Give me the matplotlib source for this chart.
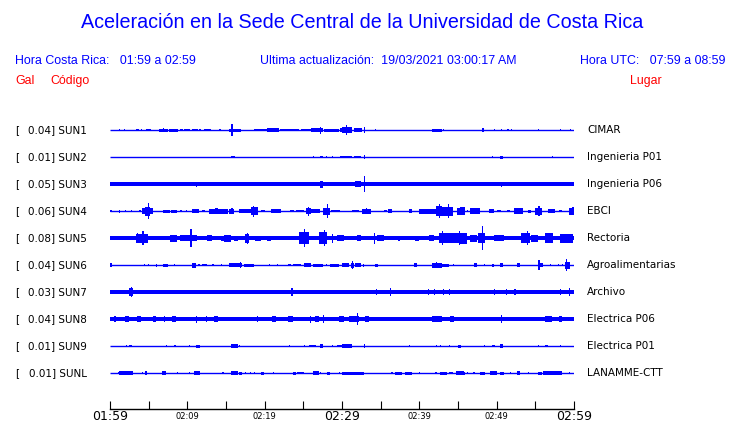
import matplotlib
matplotlib.use("Agg")
import matplotlib.pyplot as plt

# ---------------- data ----------------
codes = ["SUN1", "SUN2", "SUN3", "SUN4", "SUN5", "SUN6", "SUN7", "SUN8", "SUN9", "SUNL"]
gal = [0.04, 0.01, 0.05, 0.06, 0.08, 0.04, 0.03, 0.04, 0.01, 0.01]
places = ["CIMAR", "Ingenieria P01", "Ingenieria P06", "EBCI", "Rectoria",
          "Agroalimentarias", "Archivo", "Electrica P06", "Electrica P01", "LANAMME-CTT"]
# background (noise) half-amplitude of each trace, relative units
base_amp = [0.5, 0.5, 1.7, 0.5, 2.1, 0.5, 2.3, 2.4, 0.5, 0.5]

# events: (start minute, end minute, half amplitude)
ev_SUN1 = [(1.2,1.2,1.3),(1.8,1.8,1.3),(3.4,3.7,1.3),(4.0,4.2,1.0),(4.6,5.3,1.3),(6.3,7.5,1.5),(6.8,6.8,2.3),
           (7.6,8.8,1.5),(9.0,9.5,1.3),(9.6,10.3,1.3),(10.6,11.4,1.0),(11.5,11.8,1.2),(12.2,13.0,1.2),(14.1,14.3,1.0),
           (15.4,16.9,1.5),(15.7,15.7,6.0),(18.6,20.3,1.3),(20.3,21.9,1.7),(22.0,23.4,1.3),(23.4,24.5,1.3),
           (24.7,26.0,1.3),(26.0,27.5,2.2),(27.2,27.3,3.5),(27.7,29.6,1.5),(29.8,30.5,2.0),(30.3,30.3,3.0),
           (30.0,31.3,3.0),(30.5,30.5,5.0),(31.6,32.6,2.0),(32.8,32.8,3.0),(34.3,34.3,1.0),(41.6,42.9,1.5),
           (43.1,43.1,1.0),(48.1,48.4,2.0),(49.6,49.6,1.3),(50.6,50.6,1.3),(51.4,51.4,1.3),(51.8,51.8,1.3),
           (55.3,55.3,1.3),(58.2,58.2,1.0),(59.5,59.5,1.3)]
ev_SUN2 = [(15.6,16.1,1.0),(26.2,26.2,1.0),(27.2,27.5,1.3),(27.9,27.9,0.8),(28.7,28.7,1.0),(29.8,30.5,1.2),
           (30.0,31.3,1.2),(31.6,32.4,1.3),(32.8,32.8,2.3),(49.4,49.4,0.8),(50.4,50.8,1.5),(57.1,57.1,0.8)]
ev_SUN3 = [(11.1,11.1,2.5),(27.2,27.5,3.5),(28.7,28.7,2.0),(30.2,30.2,2.0),(31.7,32.4,3.0),(32.8,32.8,8.0),
           (50.6,50.6,2.5)]
ev_SUN4 = [(0.0,0.2,1.3),(1.1,1.3,1.5),(1.9,2.1,1.3),(2.7,2.9,1.3),(3.8,4.0,1.3),(4.1,5.5,3.0),(4.5,5.2,4.5),
           (4.9,4.9,7.8),(6.9,7.7,1.5),(7.9,8.7,1.5),(9.1,9.3,1.0),(9.8,10.0,1.0),(10.6,11.5,2.3),(11.9,12.3,1.3),
           (12.8,15.3,2.5),(13.6,14.0,3.0),(14.7,15.2,1.7),(15.4,16.0,2.5),(15.7,15.7,3.0),(16.7,18.2,1.7),
           (18.2,19.1,4.0),(18.5,18.6,5.5),(19.5,20.1,1.3),(20.8,22.1,1.7),(23.3,23.8,1.3),(24.0,25.1,1.3),
           (25.3,26.0,3.0),(25.6,25.6,4.5),(26.0,27.2,1.7),(27.6,28.5,3.5),(28.0,28.0,7.0),(28.6,29.7,1.3),
           (31.3,32.2,1.3),(32.6,33.7,2.5),(33.1,33.1,3.0),(35.4,35.8,1.3),(36.0,36.5,1.7),(38.6,39.1,1.7),
           (39.9,42.1,2.5),(42.1,42.9,5.0),(42.5,42.5,7.0),(42.9,44.4,4.5),(43.7,43.7,7.0),(44.9,45.8,3.5),
           (45.3,45.9,4.0),(46.1,46.3,1.3),(46.6,47.8,3.0),(49.0,49.6,1.7),(50.0,50.6,1.3),(51.3,51.7,1.3),
           (52.2,53.4,3.0),(54.1,54.5,1.5),(55.0,55.8,3.5),(55.4,55.4,5.0),(56.7,57.5,1.7),(58.0,58.4,1.3),
           (59.3,60.0,3.5),(59.8,59.8,4.0)]
ev_SUN5 = [(3.4,4.9,4.5),(3.5,3.5,5.0),(4.2,4.2,7.0),(7.7,8.6,3.5),(9.1,10.4,3.0),(10.4,10.4,9.0),(10.6,11.2,3.0),
           (12.5,13.2,3.0),(14.3,14.7,2.5),(15.0,15.0,3.5),(14.7,15.6,3.5),(16.0,16.5,2.5),(17.5,18.0,4.5),
           (17.7,17.7,5.5),(18.8,19.5,2.5),(20.3,20.8,2.5),(24.4,25.7,6.0),(25.1,25.1,9.0),(27.0,28.1,6.0),
           (27.7,27.7,8.0),(28.7,28.7,4.5),(29.4,30.3,3.0),(31.9,32.4,3.0),(34.1,34.1,5.5),(34.5,35.4,3.0),
           (37.3,37.3,2.5),(39.5,39.9,2.5),(41.2,41.9,3.0),(42.5,45.8,5.0),(42.9,42.9,7.0),(45.1,45.1,7.0),
           (45.3,46.1,5.5),(46.6,47.4,3.5),(47.6,48.5,5.0),(48.1,48.1,12.0),(49.6,50.9,3.0),(53.2,54.3,5.0),
           (53.9,53.9,7.0),(54.5,55.4,3.5),(56.3,57.3,5.0),(58.2,59.9,4.5)]
ev_SUN6 = [(0.0,0.2,2.0),(4.4,4.4,1.3),(4.9,4.9,1.0),(5.9,6.0,1.5),(6.8,7.5,1.5),(8.3,8.3,1.0),(10.6,11.1,2.5),
           (11.4,11.7,1.3),(11.9,12.6,1.3),(13.2,13.4,1.3),(14.3,14.3,1.0),(15.4,17.1,1.8),(16.8,16.8,3.0),
           (17.3,18.6,1.5),(20.6,20.6,1.0),(21.6,21.6,1.3),(23.0,23.4,1.3),(23.6,24.7,1.3),(25.1,26.0,1.7),
           (26.2,27.5,1.5),(27.9,27.9,1.0),(28.5,29.6,1.5),(30.3,30.3,1.5),(30.0,30.9,2.0),(31.1,31.5,2.5),
           (31.3,31.3,4.0),(31.7,32.4,2.0),(32.7,32.9,1.5),(34.3,34.6,1.5),(39.3,39.7,1.7),(41.6,42.9,2.5),
           (42.2,42.2,3.0),(42.9,43.8,1.5),(44.4,44.4,1.0),(47.1,47.5,1.7),(48.3,48.3,1.0),(49.4,49.6,1.5),
           (50.4,50.8,1.7),(52.6,53.0,2.0),(55.4,55.4,5.0),(55.6,56.0,1.7),(56.9,56.9,1.3),(57.9,57.9,1.3),
           (58.4,58.4,1.0),(58.8,59.5,3.5),(59.0,59.0,6.0)]
ev_SUN7 = [(2.4,3.0,4.0),(2.7,2.7,5.3),(23.4,23.6,3.7),(34.4,34.4,2.9),(36.2,36.2,4.3),(41.1,41.1,2.9),
           (41.9,41.9,3.1),(43.1,43.1,3.1),(43.8,43.8,3.3),(49.7,49.7,2.9),(51.2,51.2,3.3),(52.3,52.3,3.1),
           (58.2,58.2,3.1),(59.4,59.4,4.0)]
ev_SUN8 = [(0.5,0.8,2.8),(2.0,2.4,2.8),(3.5,4.0,2.8),(5.5,6.0,2.8),(7.0,7.0,3.3),(8.0,8.5,2.8),(11.1,11.1,3.5),
           (12.4,12.4,3.3),(13.5,14.0,2.8),(19.0,19.0,3.3),(21.0,21.5,2.8),(23.0,23.6,2.8),(25.8,25.8,3.5),
           (26.5,27.0,2.8),(27.5,27.5,4.0),(29.6,30.3,3.3),(30.9,32.2,3.3),(31.9,31.9,5.8),(33.0,33.5,2.8),
           (41.6,42.9,3.0),(44.0,44.5,2.8),(50.5,50.5,4.3),(56.3,57.1,3.3),(58.0,58.5,2.8)]
ev_SUN9 = [(2.1,2.1,1.3),(2.5,2.9,1.3),(7.2,7.2,1.0),(8.3,8.5,1.3),(10.2,10.2,1.3),(11.1,11.7,1.5),(15.6,16.5,1.7),
           (16.7,16.7,1.3),(23.1,23.1,1.0),(25.1,25.1,1.0),(25.7,26.6,1.3),(27.2,27.5,1.7),(28.7,28.7,1.3),
           (29.4,30.0,1.3),(30.0,31.3,1.7),(32.8,32.8,1.7),(38.6,38.6,1.0),(42.1,42.1,1.0),(42.7,42.7,1.0),
           (43.8,43.8,1.0),(45.0,45.4,1.5),(48.3,48.3,1.0),(49.4,49.8,1.3),(50.4,50.8,1.8),(55.3,55.3,1.3),
           (56.3,56.7,1.3),(58.2,58.2,1.0)]
ev_SUNL = [(1.0,1.0,1.0),(1.1,3.0,1.7),(2.2,2.4,2.3),(4.1,4.1,1.0),(4.5,4.8,1.7),(6.7,7.3,1.7),(8.6,8.6,1.3),
           (10.2,10.2,1.3),(10.9,11.7,1.7),(14.5,14.8,1.3),(15.6,16.5,1.7),(16.7,17.1,1.5),(17.4,17.4,1.3),
           (18.1,18.1,1.3),(18.6,18.6,1.3),(19.5,19.9,1.5),(21.1,21.1,1.0),(23.6,24.0,1.5),(24.2,25.1,1.3),
           (26.2,27.0,1.7),(27.2,27.2,1.3),(28.1,28.5,1.5),(29.6,29.6,1.0),(30.0,31.3,1.5),(31.3,32.8,1.5),
           (36.4,36.4,1.0),(36.9,37.8,1.5),(38.2,39.1,1.5),(40.0,40.0,1.0),(42.0,42.3,1.3),(42.7,43.6,1.5),
           (43.8,44.4,1.3),(44.7,45.8,1.7),(45.3,45.9,1.5),(46.1,46.1,1.3),(47.0,47.0,1.0),(47.8,48.5,1.5),
           (49.1,50.0,1.7),(50.4,51.0,1.5),(51.7,51.7,1.0),(52.6,53.0,1.7),(54.1,54.1,1.0),(55.4,55.8,1.5),
           (56.0,58.4,1.7),(57.8,57.8,2.3),(59.3,59.3,1.3)]
events = [ev_SUN1, ev_SUN2, ev_SUN3, ev_SUN4, ev_SUN5, ev_SUN6, ev_SUN7, ev_SUN8, ev_SUN9, ev_SUNL]

tick_minutes = [0, 5, 10, 15, 20, 25, 30, 35, 40, 45, 50, 55, 60]
tick_labels = ["01:59", "", "02:09", "", "02:19", "", "02:29", "", "02:39", "", "02:49", "", "02:59"]
big_labels = ["01:59", "02:29", "02:59"]

title = "Aceleración en la Sede Central de la Universidad de Costa Rica"
hdr_left = "Hora Costa Rica:   01:59 a 02:59"
hdr_mid = "Ultima actualización:  19/03/2021 03:00:17 AM"
hdr_right = "Hora UTC:   07:59 a 08:59"

# ---------------- figure ----------------
W, H = 740, 423
fig = plt.figure(figsize=(W / 100, H / 100), dpi=100)
fig.patch.set_facecolor("white")

def fx(px):
    return px / W

def fy(py):
    return 1 - py / H

ax = fig.add_axes([fx(110), fy(409), fx(574) - fx(110), fy(115) - fy(409)])
ax.set_xlim(0, 60)
ax.set_ylim(409, 115)
for s in ["top", "left", "right"]:
    ax.spines[s].set_visible(False)
ax.spines["bottom"].set_linewidth(1.0)
ax.set_yticks([])

BLUE = "#0000ff"
min_w = 60 / 464.0 * 1.1
for i, evs in enumerate(events):
    yc = 130 + 27 * i
    b = base_amp[i]
    if b > 0.6:
        ax.fill_between([0, 60], yc - b, yc + b, color=BLUE, linewidth=0)
    ax.plot([0, 60], [yc, yc], color=BLUE, linewidth=1.0, solid_capstyle="butt")
    for (t0, t1, a) in evs:
        w = max(t1 - t0, min_w)
        ax.bar(t0, 2 * a, bottom=yc - a, width=w, align="edge", color=BLUE, linewidth=0)

ax.set_xticks(tick_minutes)
ax.set_xticklabels(tick_labels)
ax.tick_params(axis="x", direction="in", length=6, width=0.8, pad=1, colors="black")
for lab in ax.get_xticklabels():
    if lab.get_text() in big_labels:
        lab.set_fontsize(9)
    else:
        lab.set_fontsize(6)
        lab.set_y(-0.004)

# ---------------- text ----------------
tfont = ["Liberation Sans", "DejaVu Sans"]
fig.text(fx(362), fy(22), title, color=BLUE, fontsize=14.2, family=tfont, ha="center", va="center")
fig.text(fx(15), fy(61), hdr_left, color=BLUE, fontsize=8.9, family=tfont, ha="left", va="center")
fig.text(fx(260), fy(61), hdr_mid, color=BLUE, fontsize=8.9, family=tfont, ha="left", va="center")
fig.text(fx(725), fy(61), hdr_right, color=BLUE, fontsize=8.9, family=tfont, ha="right", va="center")
fig.text(fx(15), fy(81), "Gal", color="red", fontsize=8.9, family=tfont, ha="left", va="center")
fig.text(fx(50), fy(81), "Código", color="red", fontsize=8.9, family=tfont, ha="left", va="center")
fig.text(fx(662), fy(81), "Lugar", color="red", fontsize=8.9, family=tfont, ha="right", va="center")

for i in range(len(codes)):
    yc = 130 + 27 * i
    fig.text(fx(15), fy(yc), "[", fontsize=7.5, family="DejaVu Sans", ha="left", va="center")
    fig.text(fx(87), fy(yc), f"{gal[i]:.2f}] {codes[i]}", fontsize=7.5, family="DejaVu Sans",
             ha="right", va="center")
    fig.text(fx(587), fy(yc), places[i], fontsize=7.5, family="DejaVu Sans", ha="left", va="center")

fig.savefig("out.png", dpi=100)
